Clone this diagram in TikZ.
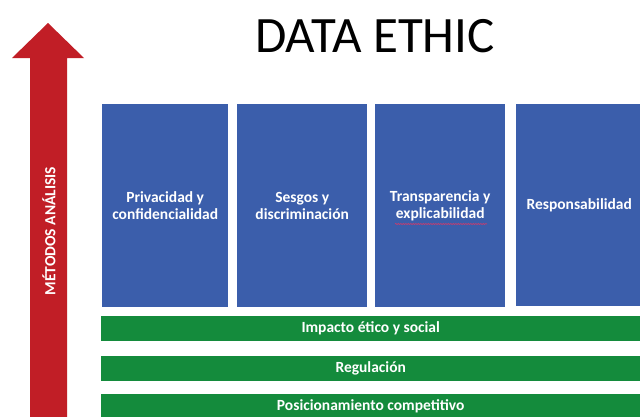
\documentclass[tikz,border=0pt]{standalone}
\usepackage{fontspec}
\setmainfont{Carlito}
\usetikzlibrary{decorations.pathmorphing}
\definecolor{arrowred}{RGB}{193,30,38}
\definecolor{boxblue}{RGB}{59,94,171}
\definecolor{bargreen}{RGB}{20,139,60}
\definecolor{spellred}{RGB}{200,60,110}
\tikzset{
  pillar/.style={fill=boxblue, draw=none, text=white, font=\bfseries\fontsize{15.5}{17}\selectfont,
    align=center, inner sep=0pt, anchor=north west, minimum height=203pt},
  band/.style={fill=bargreen, draw=none, text=white, font=\bfseries\fontsize{15.5}{17}\selectfont,
    inner sep=0pt, anchor=north west, minimum width=539pt, minimum height=25pt},
}
\begin{document}
\begin{tikzpicture}[x=1pt,y=-1pt]
\useasboundingbox[fill=white] (0,0) rectangle (640,416);
% red arrow
\fill[arrowred] (30,420) -- (30,58) -- (12,58) -- (48,23) -- (84,58) -- (67,58) -- (67,420) -- cycle;
\node[rotate=90, text=white, font=\bfseries\fontsize{15.5}{16}\selectfont] (meth) at (49,231) {MÉTODOS ANÁLISIS};
% title
\node[font=\fontsize{51}{60}\selectfont, inner sep=0pt, anchor=base] (title) at (375,52) {DATA ETHIC};
% pillars
\node[pillar, minimum width=126pt] (p1) at (102,104) {Privacidad y\\confidencialidad};
\node[pillar, minimum width=130pt] (p2) at (237,104) {Sesgos y\\discriminación};
\node[pillar, minimum width=130pt] (p3) at (375,104) {Transparencia y\\explicabilidad};
\node[pillar, minimum width=126pt, minimum height=202pt] (p4) at (516,104) {Responsabilidad};
% spelling squiggle
\coordinate (sq1) at (395,224);
\coordinate (sq2) at (487,224);
\draw[spellred, line width=0.6pt, decorate, decoration={snake, amplitude=0.6pt, segment length=2.5pt}] (sq1) -- (sq2);
% bands
\node[band] (b1) at (101,316) {Impacto ético y social};
\node[band] (b2) at (101,356) {Regulación};
\node[band] (b3) at (101,394) {Posicionamiento competitivo};
\end{tikzpicture}
\end{document}
